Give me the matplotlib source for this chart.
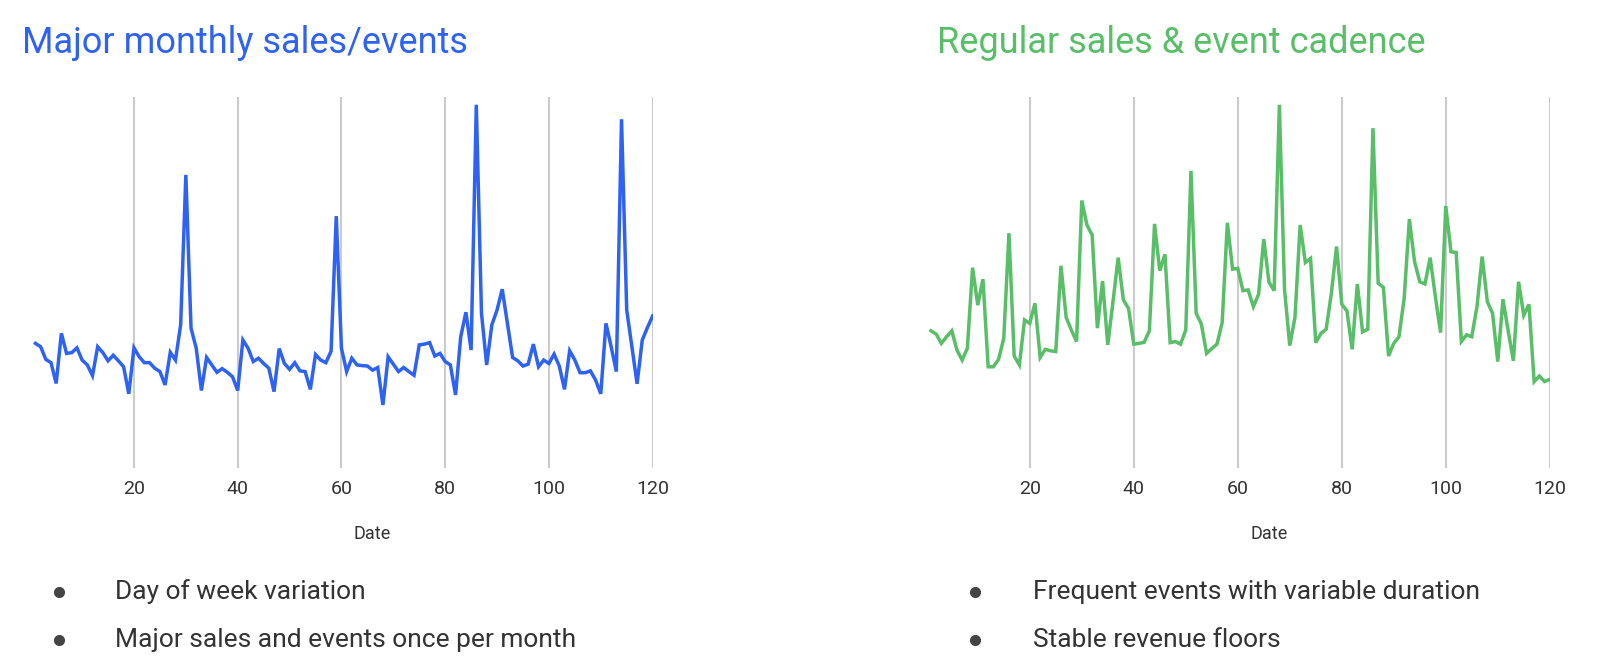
import numpy as np
import matplotlib
matplotlib.use("Agg")
import matplotlib.pyplot as plt
from matplotlib.lines import Line2D

plt.rcParams['font.family'] = ['Roboto', 'DejaVu Sans']

# day index for both series
days = np.arange(1, 121)

# monthly spikes (left panel)
monthly_sales = [
    33.5, 32.6, 29.2, 28.3, 22.7, 36.2, 30.8, 31.0, 32.3, 29.0,
    27.7, 24.8, 32.6, 31.0, 28.8, 30.3, 28.8, 27.2, 19.9, 32.3,
    29.9, 28.3, 28.3, 26.8, 25.9, 22.3, 31.1, 29.0, 38.5, 78.9,
    37.6, 32.2, 20.8, 29.7, 27.7, 25.7, 26.7, 25.7, 24.5, 20.8,
    34.4, 32.2, 28.6, 29.5, 28.1, 26.8, 20.5, 32.1, 28.1, 26.5,
    28.3, 26.1, 25.9, 21.1, 30.5, 29.0, 28.3, 31.4, 67.8, 32.2,
    25.9, 29.5, 27.7, 27.5, 27.4, 26.3, 27.0, 16.9, 29.9, 27.9,
    25.9, 27.0, 25.9, 24.9, 33.1, 33.3, 33.7, 30.1, 30.8, 28.6,
    27.7, 19.6, 35.3, 41.9, 31.7, 97.8, 41.6, 27.7, 38.5, 42.5,
    48.1, 38.9, 29.7, 28.8, 27.4, 27.9, 33.3, 27.2, 29.0, 28.1,
    30.6, 27.4, 21.1, 31.5, 29.0, 25.6, 25.6, 26.1, 23.6, 19.9,
    38.9, 32.6, 25.9, 93.9, 42.5, 32.6, 22.6, 34.4, 37.8, 40.9,
]

# regular cadence (right panel)
regular_sales = [
    36.9, 36.0, 33.5, 35.3, 36.9, 31.7, 29.0, 32.2, 53.9, 43.8,
    50.8, 27.2, 27.2, 29.2, 34.9, 63.2, 30.1, 27.7, 39.8, 38.9,
    44.3, 29.7, 31.9, 31.5, 31.3, 54.4, 40.5, 37.1, 34.0, 72.0,
    65.4, 62.7, 37.6, 50.3, 33.1, 44.7, 56.6, 45.2, 42.9, 33.3,
    33.5, 33.8, 36.9, 65.7, 53.1, 57.5, 33.7, 34.0, 33.3, 37.1,
    80.0, 41.6, 38.7, 30.8, 32.1, 33.3, 39.1, 66.0, 53.5, 53.7,
    47.7, 47.9, 43.4, 46.7, 61.6, 50.0, 47.7, 97.8, 47.9, 32.9,
    40.5, 65.4, 55.3, 56.4, 33.7, 36.2, 37.3, 47.0, 59.6, 44.1,
    42.2, 31.9, 49.5, 36.6, 37.3, 91.5, 49.7, 48.6, 30.1, 33.5,
    35.3, 45.6, 67.0, 55.5, 50.1, 49.5, 56.6, 46.1, 36.4, 70.5,
    58.2, 58.0, 34.0, 35.8, 35.3, 43.4, 56.9, 44.7, 41.6, 28.6,
    45.4, 36.9, 28.8, 50.1, 41.1, 44.0, 23.2, 24.7, 23.2, 23.8,
]

xticks = [20, 40, 60, 80, 100, 120]
titles = ['Major monthly sales/events', 'Regular sales & event cadence']
bullets_left = ['Day of week variation', 'Major sales and events once per month']
bullets_right = ['Frequent events with variable duration', 'Stable revenue floors']

blue = '#2E62F5'
green = '#58BE68'
text_col = '#333333'

fig = plt.figure(figsize=(16, 6.71), dpi=100)

ax_l = fig.add_axes([0.0189, 0.303, 0.389, 0.553])
ax_r = fig.add_axes([0.5786, 0.303, 0.390, 0.553])

for ax, ys, col in [(ax_l, monthly_sales, blue), (ax_r, regular_sales, green)]:
    ax.plot(days, ys, color=col, lw=2.5, solid_joinstyle='miter', zorder=3)
    ax.set_xlim(0, 120)
    ax.set_ylim(0, 100)
    ax.set_xticks(xticks)
    ax.set_yticks([])
    ax.grid(axis='x', color='#cccccc', lw=1.5)
    for s in ax.spines.values():
        s.set_visible(False)
    ax.tick_params(axis='x', length=0, pad=9, labelsize=14, labelcolor=text_col)
    ax.set_xlabel('Date', fontsize=13, color=text_col)
    ax.xaxis.set_label_coords(0.55, -0.155)

# titles
fig.text(22 / 1600, 1 - 53 / 671, titles[0], color=blue, fontsize=26,
         fontweight='normal', ha='left', va='baseline')
fig.text(937 / 1600, 1 - 53 / 671, titles[1], color=green, fontsize=26,
         fontweight='normal', ha='left', va='baseline')

# bullet lists
def bullets(x_dot, x_txt, items):
    for i, t in enumerate(items):
        y = 1 - (592 + 48 * i) / 671
        fig.add_artist(Line2D([x_dot / 1600], [y], marker='o', ms=7,
                              color='#444444', transform=fig.transFigure))
        fig.text(x_txt / 1600, y, t, fontsize=19, color=text_col,
                 ha='left', va='center')

bullets(59, 115, bullets_left)
bullets(975, 1033, bullets_right)

fig.savefig('out.png', dpi=100)
